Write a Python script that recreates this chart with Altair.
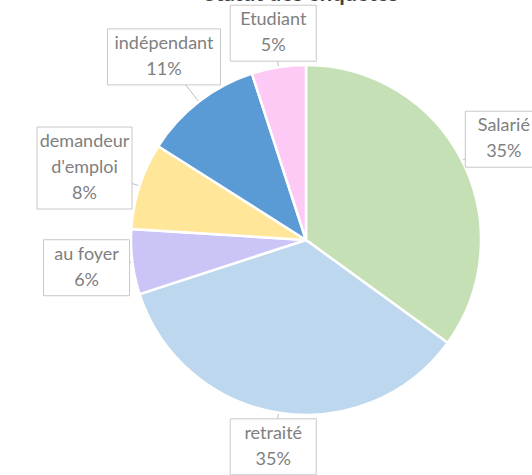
import altair as alt
import pandas as pd

# ---- data ----
names = ["Salarié", "retraité", "au foyer", "demandeur\nd'emploi", "indépendant", "Etudiant"]
values = [35, 35, 6, 8, 11, 5]
colors = ["#c5e0b4", "#bdd7ee", "#cbc4f6", "#ffe699", "#5b9bd5", "#fdcaf6"]
title_text = "Statut des enquêtés"

df = pd.DataFrame({"name": names, "value": values, "idx": list(range(len(names)))})

W, H = 532, 475
R = 175          # pie radius (px)
CHAR_W = 9.0     # approx glyph width for label boxes
PAD_W = 14
LINE_H = 26

xs = alt.Scale(domain=[-306, W - 306], nice=False, zero=False)
ys = alt.Scale(domain=[-(H - 240), 240], nice=False, zero=False)

base = (
    alt.Chart(df)
    .transform_window(cum="sum(value)", sort=[alt.SortField("idx")], frame=[None, 0])
    .transform_joinaggregate(total="sum(value)")
    .transform_calculate(
        start="2*PI*(datum.cum-datum.value)/datum.total",
        end="2*PI*datum.cum/datum.total",
    )
    .transform_calculate(
        mid="(datum.start+datum.end)/2",
        pct="round(datum.value/datum.total*100)+'%'",
        parts="split(datum.name, '\\n')",
        cx="0",
        cy="0",
    )
    .transform_calculate(
        label="datum.name + '\\n' + datum.pct",
        nl="length(datum.parts)+1",
        mc="max(length(datum.parts[0]), length(datum.parts)>1 ? length(datum.parts[1]) : 0, length(datum.pct))",
    )
    .transform_calculate(
        bw=f"datum.mc*{CHAR_W}+{PAD_W}",
        bh=f"datum.nl*{LINE_H}+4",
    )
    .transform_calculate(
        ext="abs(sin(datum.mid))*datum.bw/2 + abs(cos(datum.mid))*datum.bh/2",
    )
    .transform_calculate(
        dist=f"{R}+datum.ext",
        ex=f"{R}*sin(datum.mid)",
        ey=f"{R}*cos(datum.mid)",
    )
    .transform_calculate(
        lx="datum.dist*sin(datum.mid)",
        ly="datum.dist*cos(datum.mid)",
    )
    .transform_calculate(
        ty=f"datum.ly + (datum.nl-1)*{LINE_H}/2",
        bx1="datum.lx-datum.bw/2",
        bx2="datum.lx+datum.bw/2",
        by1="datum.ly-datum.bh/2",
        by2="datum.ly+datum.bh/2",
    )
)

leaders = base.mark_rule(color="#bfbfbf", strokeWidth=1).encode(
    x=alt.X("ex:Q", scale=xs, axis=None),
    y=alt.Y("ey:Q", scale=ys, axis=None),
    x2="lx:Q",
    y2="ly:Q",
)

arcs = base.mark_arc(radius=R, stroke="white", strokeWidth=2.5).encode(
    theta=alt.Theta("start:Q", scale=None),
    theta2="end:Q",
    x=alt.X("cx:Q", scale=xs, axis=None),
    y=alt.Y("cy:Q", scale=ys, axis=None),
    color=alt.Color("name:N", scale=alt.Scale(domain=names, range=colors), legend=None),
)

boxes = base.mark_rect(fill="white", stroke="#c8c8c8", strokeWidth=1).encode(
    x=alt.X("bx1:Q", scale=xs, axis=None),
    x2="bx2:Q",
    y=alt.Y("by1:Q", scale=ys, axis=None),
    y2="by2:Q",
)

texts = base.mark_text(
    font="Lato", fontSize=18, lineHeight=LINE_H, lineBreak="\n",
    color="#808080", align="center", baseline="middle",
).encode(
    x=alt.X("lx:Q", scale=xs, axis=None),
    y=alt.Y("ty:Q", scale=ys, axis=None),
    text="label:N",
)

chart = (
    alt.layer(leaders, arcs, boxes, texts)
    .properties(
        width=W,
        height=H,
        title=alt.TitleParams(
            title_text, fontSize=22, fontWeight="bold", color="#404040",
            font="Lato", frame="group", anchor="middle", offset=-23,
            baseline="alphabetic", dx=35,
        ),
        autosize=alt.AutoSizeParams(type="none"),
        padding=0,
    )
    .configure_view(stroke=None)
)

chart.save("out.html", embed_options={"renderer": "svg", "actions": False})
